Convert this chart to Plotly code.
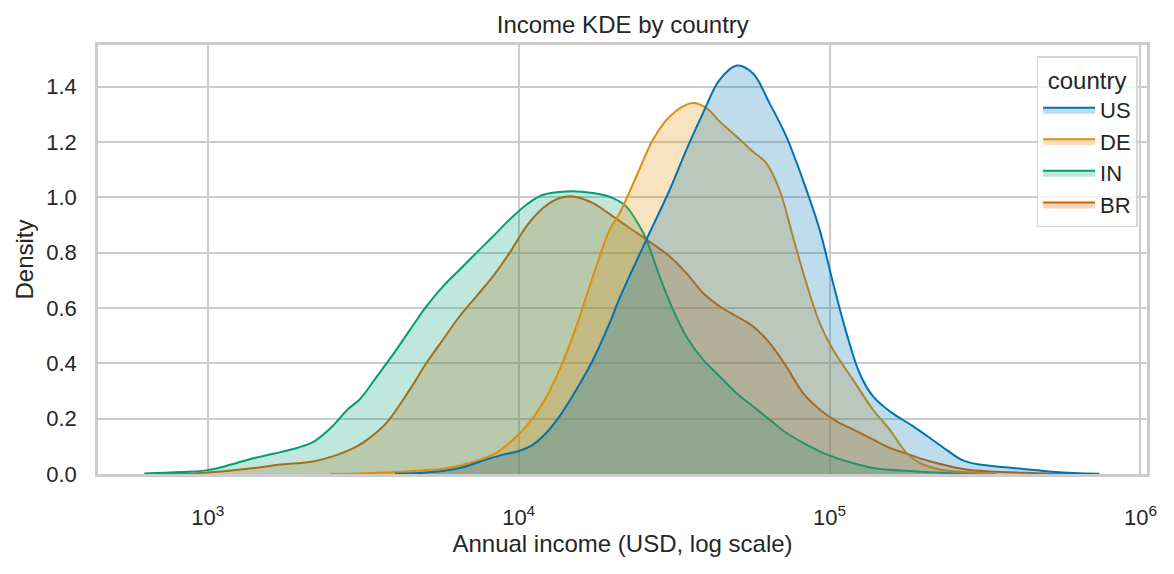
import plotly.graph_objects as go

# ---- data (income in USD, KDE density) ----
countries = ["US", "DE", "IN", "BR"]

us_income = [4000, 5050, 6460, 7870, 8910, 9960, 11120, 12280, 13550, 15340, 17350, 19630, 21140,
             25760, 30620, 34620, 39170, 44290, 50330, 56650, 64090, 72550, 82070, 92900, 102600,
             113300, 124800, 137800, 155900, 185200, 209700, 237200, 268300, 303600, 388200,
             497600, 605500, 738000]
us_density = [0.001, 0.005, 0.022, 0.052, 0.070, 0.082, 0.106, 0.149, 0.209, 0.305, 0.413, 0.546, 0.636,
              0.847, 1.027, 1.171, 1.304, 1.424, 1.476, 1.448, 1.340, 1.220, 1.063, 0.883, 0.690,
              0.510, 0.365, 0.281, 0.227, 0.173, 0.131, 0.088, 0.049, 0.034, 0.022,
              0.010, 0.004, 0.001]

de_income = [2470, 3080, 4470, 5720, 6960, 8260, 9350, 10590, 11980, 13550, 15340, 17350, 19630,
             21140, 23900, 27040, 30620, 36220, 40180, 44290, 50120, 56650, 62520, 69020, 76210,
             84150, 92900, 102600, 118900, 137800, 155900, 176500, 194900, 226100, 268300, 343600]
de_density = [0.000, 0.002, 0.010, 0.019, 0.040, 0.070, 0.113, 0.173, 0.257, 0.377, 0.534, 0.715, 0.883,
              0.943, 1.075, 1.208, 1.292, 1.340, 1.322, 1.274, 1.220, 1.165, 1.124, 1.027, 0.858,
              0.690, 0.546, 0.449, 0.341, 0.233, 0.161, 0.077, 0.040, 0.016, 0.007, 0.002]

in_income = [625, 820, 1000, 1189, 1413, 1638, 1945, 2202, 2490, 2818, 3085, 3487, 3945, 4465, 5050,
             5712, 6460, 7310, 8265, 9350, 10590, 11980, 14230, 17340, 20100, 22180, 24490, 25760,
             28400, 31360, 34620, 39170, 44290, 50120, 56650, 64090, 72550, 82070, 92900, 105100,
             118900, 137800, 185200, 237200, 303600]
in_density = [0.002, 0.007, 0.014, 0.034, 0.058, 0.074, 0.095, 0.118, 0.167, 0.233, 0.270, 0.350, 0.432,
              0.520, 0.606, 0.678, 0.738, 0.799, 0.858, 0.919, 0.973, 1.009, 1.021, 1.015, 0.997,
              0.967, 0.895, 0.847, 0.714, 0.594, 0.497, 0.413, 0.353, 0.293, 0.245, 0.197, 0.149,
              0.113, 0.082, 0.058, 0.040, 0.022, 0.010, 0.004, 0.001]

br_income = [652, 884, 1051, 1345, 1722, 2202, 2618, 2964, 3268, 3757, 4465, 5050, 5712, 6460, 7310,
             8265, 9350, 10590, 11980, 13550, 14960, 17340, 20100, 22740, 25760, 30620, 34620, 39170,
             44290, 50120, 56650, 64090, 72550, 82070, 92900, 105100, 118900, 137800, 155900,
             180700, 209700, 237200, 274700, 326400, 439500, 636800]
br_density = [0.001, 0.002, 0.007, 0.019, 0.034, 0.046, 0.070, 0.095, 0.125, 0.185, 0.305, 0.401, 0.486,
              0.570, 0.642, 0.714, 0.799, 0.895, 0.961, 0.997, 1.003, 0.979, 0.931, 0.889, 0.847,
              0.786, 0.726, 0.654, 0.606, 0.570, 0.534, 0.474, 0.389, 0.293, 0.233, 0.191, 0.161,
              0.125, 0.095, 0.070, 0.046, 0.031, 0.016, 0.009, 0.004, 0.001]

x_tick_values = [1e3, 1e4, 1e5, 1e6]
x_tick_labels = ["10<sup>3</sup>", "10<sup>4</sup>", "10<sup>5</sup>", "10<sup>6</sup>"]
y_tick_values = [0.0, 0.2, 0.4, 0.6, 0.8, 1.0, 1.2, 1.4]

# ---- styling ----
colors = {"US": "#0173B2", "DE": "#DE8F05", "IN": "#029E73", "BR": "#D55E00"}
fills = {"US": "rgba(1,115,178,0.25)", "DE": "rgba(222,143,5,0.25)",
         "IN": "rgba(2,158,115,0.25)", "BR": "rgba(213,94,0,0.25)"}
series = {"US": (us_income, us_density), "DE": (de_income, de_density),
          "IN": (in_income, in_density), "BR": (br_income, br_density)}

FONT = "Arial, 'Liberation Sans', sans-serif"
TXT = "#262626"
GRID = "#cccccc"

fig = go.Figure()
# drawn in reverse so US ends on top (as seaborn does); legend reversed back
for c in reversed(countries):
    xs, ys = series[c]
    fig.add_trace(go.Scatter(
        x=xs, y=ys, name=c, mode="lines",
        line=dict(color=colors[c], width=2, shape="spline", smoothing=1.0),
        fill="tozeroy", fillcolor=fills[c],
    ))

fig.update_layout(
    width=1174, height=574,
    margin=dict(l=98, r=27, t=45, b=100),
    paper_bgcolor="white", plot_bgcolor="white",
    font=dict(family=FONT, color=TXT, size=22),
    title=dict(text="Income KDE by country", x=0.5305, xanchor="center",
               y=1 - 33 / 574, yref="container", yanchor="bottom",
               font=dict(size=24, color=TXT, family=FONT)),
    showlegend=True,
    legend=dict(
        traceorder="reversed",
        x=0.991, xanchor="right", y=0.974, yanchor="top",
        bgcolor="rgba(255,255,255,0.8)", bordercolor="#d6d6d6", borderwidth=1.5,
        font=dict(size=22, color=TXT, family=FONT),
        title=dict(text="country", side="top center", font=dict(size=24, color=TXT, family=FONT)),
        itemwidth=52,
    ),
)

fig.update_xaxes(
    type="log", range=[2.647, 6.021],
    tickmode="array", tickvals=x_tick_values, ticktext=x_tick_labels,
    showgrid=True, gridcolor=GRID, gridwidth=2,
    showline=True, linecolor=GRID, linewidth=2.5, mirror=True,
    ticks="", ticklabelstandoff=22,
    tickfont=dict(size=22, color=TXT, family=FONT),
    title=dict(text="Annual income (USD, log scale)", standoff=2,
               font=dict(size=24, color=TXT, family=FONT)),
    zeroline=False,
)
fig.update_yaxes(
    range=[0, 1.55],
    tickmode="array", tickvals=y_tick_values, tickformat=".1f",
    showgrid=True, gridcolor=GRID, gridwidth=2,
    showline=True, linecolor=GRID, linewidth=2.5, mirror=True,
    ticks="", ticklabelstandoff=14,
    tickfont=dict(size=22, color=TXT, family=FONT),
    title=dict(text="Density", standoff=6,
               font=dict(size=24, color=TXT, family=FONT)),
    zeroline=False,
)

fig.write_html("out.html")
